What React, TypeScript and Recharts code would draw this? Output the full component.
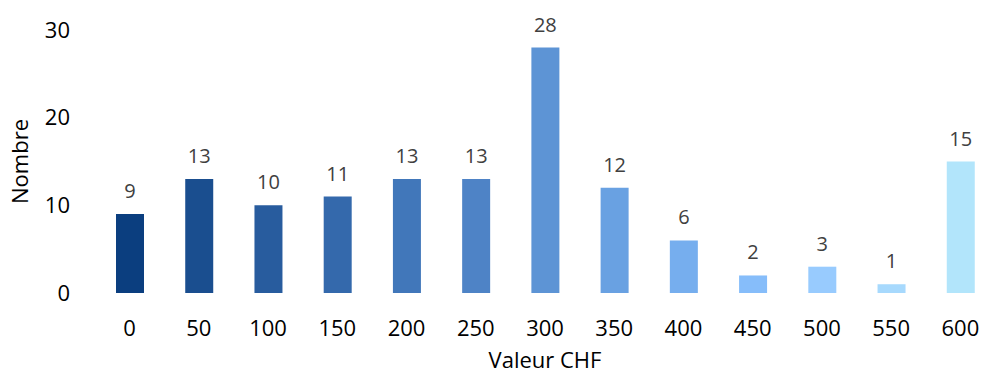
import { BarChart, Bar, XAxis, YAxis, Cell, LabelList } from 'recharts';

const categories = ['0', '50', '100', '150', '200', '250', '300', '350', '400', '450', '500', '550', '600'];
const counts = [9, 13, 10, 11, 13, 13, 28, 12, 6, 2, 3, 1, 15];
const barColors = [
  '#0B3E7F', '#1A4E8F', '#285C9E', '#3469AC', '#4177BA', '#4E83C6', '#5D94D5',
  '#69A1E2', '#76AEEE', '#86BDFA', '#98CBFE', '#A7D9FD', '#B2E5FB',
];
const yTicks = [0, 10, 20, 30];

const data = categories.map((c, i) => ({ label: c, count: counts[i] }));

const font = '"Open Sans", sans-serif';

export default function App() {
  return (
    <div style={{ position: 'absolute', left: 0, top: 0, width: 981, height: 376, overflow: 'hidden', background: '#fff' }}>
      <BarChart
        width={1000}
        height={376}
        data={data}
        margin={{ top: 30, right: 5, left: 0, bottom: 0 }}
        style={{ fontFamily: font }}
      >
        <XAxis
          dataKey="label"
          height={83}
          axisLine={false}
          tickLine={false}
          tickSize={0}
          tickMargin={27}
          tick={{ fontSize: 22, fill: '#000' }}
          interval={0}
          label={{ value: 'Valeur CHF', position: 'insideBottom', offset: 8, fontSize: 22, fill: '#000' }}
        />
        <YAxis
          domain={[0, 30]}
          ticks={yTicks}
          width={95}
          axisLine={false}
          tickLine={false}
          tickSize={0}
          tickMargin={25}
          tick={{ fontSize: 22, fill: '#000' }}
          label={{ value: 'Nombre', angle: -90, position: 'insideLeft', offset: 20, fontSize: 22, fill: '#000', style: { textAnchor: 'middle' } }}
        />
        <Bar dataKey="count" barSize={28} isAnimationActive={false}>
          {data.map((d, i) => (
            <Cell key={d.label} fill={barColors[i]} />
          ))}
          <LabelList dataKey="count" position="top" offset={16} style={{ fontSize: 20, fill: '#404040' }} />
        </Bar>
      </BarChart>
    </div>
  );
}
